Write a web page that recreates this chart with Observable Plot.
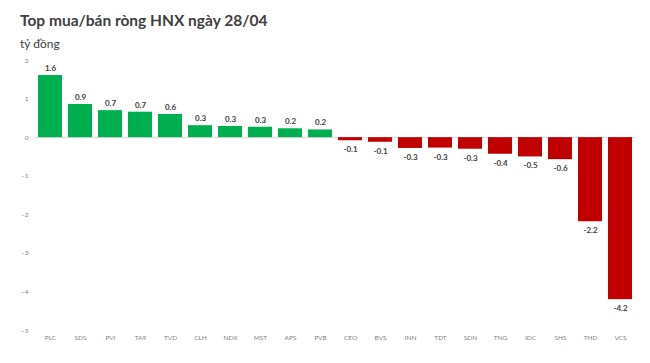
<!DOCTYPE html>
<html><head><meta charset="utf-8">
<script src="https://cdn.jsdelivr.net/npm/d3@7"></script>
<script src="https://cdn.jsdelivr.net/npm/@observablehq/plot@0.6"></script>
<style>
body{margin:0;background:#fff;font-family:Lato,sans-serif;}
#wrap{width:650px;height:363px;position:relative;overflow:hidden}
h1{margin:0;position:absolute;left:20px;top:10px;font-size:15.5px;font-weight:700;color:#404040;font-family:Lato,sans-serif;line-height:20px}
.sub{position:absolute;left:20px;top:36px;font-size:12px;color:#404040;line-height:16px}
#chart{position:absolute;left:0;top:52px}
</style></head><body>
<div id="wrap">
<h1>Top mua/bán ròng HNX ngày 28/04</h1>
<div class="sub">tỷ đồng</div>
<div id="chart"></div>
</div>
<script>
const tickers = ["PLC","SDS","PVI","TA9","TVD","CLH","NDX","MST","APS","PVB","CEO","BVS","INN","TDT","SDN","TNG","IDC","SHS","THD","VCS"];
const values = [1.61,0.86,0.70,0.66,0.60,0.31,0.29,0.27,0.23,0.20,-0.08,-0.12,-0.28,-0.27,-0.30,-0.43,-0.50,-0.57,-2.18,-4.20];
const yTicks = [2,1,0,-1,-2,-3,-4,-5];
const data = tickers.map((t,i)=>({t, v: values[i]}));
const pos = data.filter(d => d.v >= 0);
const neg = data.filter(d => d.v < 0);
const chart = Plot.plot({
  width: 650, height: 311,
  marginLeft: 35, marginRight: 15, marginTop: 8, marginBottom: 33,
  style: {fontFamily: "Lato, sans-serif", background: "#fff", fontSize: "6.5px", color: "#7f7f7f"},
  x: {domain: tickers, paddingInner: 0.2, paddingOuter: 0.1, label: null, tickSize: 0, tickPadding: 5},
  y: {domain: [-5, 2], ticks: yTicks, tickFormat: d3.format("d"), label: null, tickSize: 0, tickPadding: 7},
  marks: [
    Plot.ruleY([0], {stroke: "#d9d9d9", strokeWidth: 1}),
    Plot.barY(data, {x: "t", y: "v", fill: d => d.v >= 0 ? "#00B050" : "#C00000"}),
    Plot.text(pos, {x: "t", y: "v", text: d => d.v.toFixed(1), dy: -7,
      fontSize: 8, fontWeight: 700, fill: "#404040"}),
    Plot.text(neg, {x: "t", y: "v", text: d => d.v.toFixed(1), dy: 9,
      fontSize: 8, fontWeight: 700, fill: "#404040"})
  ]
});
document.getElementById("chart").appendChild(chart);
</script>
</body></html>
